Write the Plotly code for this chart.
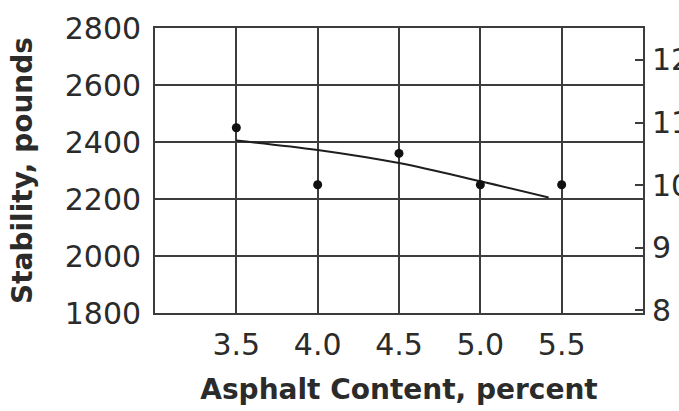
import plotly.graph_objects as go

# Data
asphalt_pct = [3.5, 4.0, 4.5, 5.0, 5.5]
stability_lb = [2450, 2250, 2360, 2250, 2250]

fit_x = [3.5, 4.0, 4.5, 5.0, 5.42]
fit_y = [2405, 2372, 2326, 2262, 2205]

x_ticks = [3.5, 4.0, 4.5, 5.0, 5.5]
x_ticktext = ["3.5", "4.0", "4.5", "5.0", "5.5"]
y_ticks = [1800, 2000, 2200, 2400, 2600, 2800]
y2_ticks = [8, 9, 10, 11, 12]

INK = "#2b2b2b"
GRID = "#3c3c3c"
FONT = "DejaVu Sans"

fig = go.Figure()

fig.add_trace(go.Scatter(
    x=fit_x, y=fit_y, mode="lines",
    line=dict(color="#1e1e1e", width=2, shape="spline"),
    showlegend=False, hoverinfo="skip",
))
fig.add_trace(go.Scatter(
    x=asphalt_pct, y=stability_lb, mode="markers",
    marker=dict(color="#111111", size=9),
    showlegend=False,
))
# invisible trace to carry the right-hand axis
fig.add_trace(go.Scatter(
    x=[None], y=[None], yaxis="y2", mode="markers",
    showlegend=False, hoverinfo="skip",
))

fig.update_layout(
    width=679, height=411,
    margin=dict(l=155, r=36, t=28, b=98),
    paper_bgcolor="white", plot_bgcolor="white",
    font=dict(family=FONT, color=INK),
    xaxis=dict(
        range=[3.0, 6.0], tickvals=x_ticks, ticktext=x_ticktext,
        showgrid=True, gridcolor=GRID, gridwidth=1.6,
        showline=True, linecolor=GRID, linewidth=1.8, mirror=True,
        ticks="", zeroline=False, automargin=False,
        tickfont=dict(family=FONT, size=30, color=INK),
        ticklabelstandoff=4,
        title=dict(text="Asphalt Content, percent", standoff=18,
                   font=dict(family=FONT, size=28, color=INK, weight="bold")),
    ),
    yaxis=dict(
        range=[1800, 2800], tickvals=y_ticks,
        showgrid=True, gridcolor=GRID, gridwidth=1.6,
        showline=True, linecolor=GRID, linewidth=1.8, mirror=True,
        ticks="", zeroline=False, automargin=False,
        tickfont=dict(family=FONT, size=30, color=INK),
        ticklabelstandoff=6,
        title=dict(text="Stability, pounds", standoff=24,
                   font=dict(family=FONT, size=28, color=INK, weight="bold")),
    ),
    yaxis2=dict(
        overlaying="y", side="right",
        range=[7.96, 12.51], tickvals=y2_ticks,
        showgrid=False, zeroline=False, showline=False,
        ticks="inside", ticklen=8, tickwidth=1.5, tickcolor=GRID,
        automargin=False,
        tickfont=dict(family=FONT, size=30, color=INK),
        ticklabelstandoff=8,
    ),
)

fig.write_html("out.html")
